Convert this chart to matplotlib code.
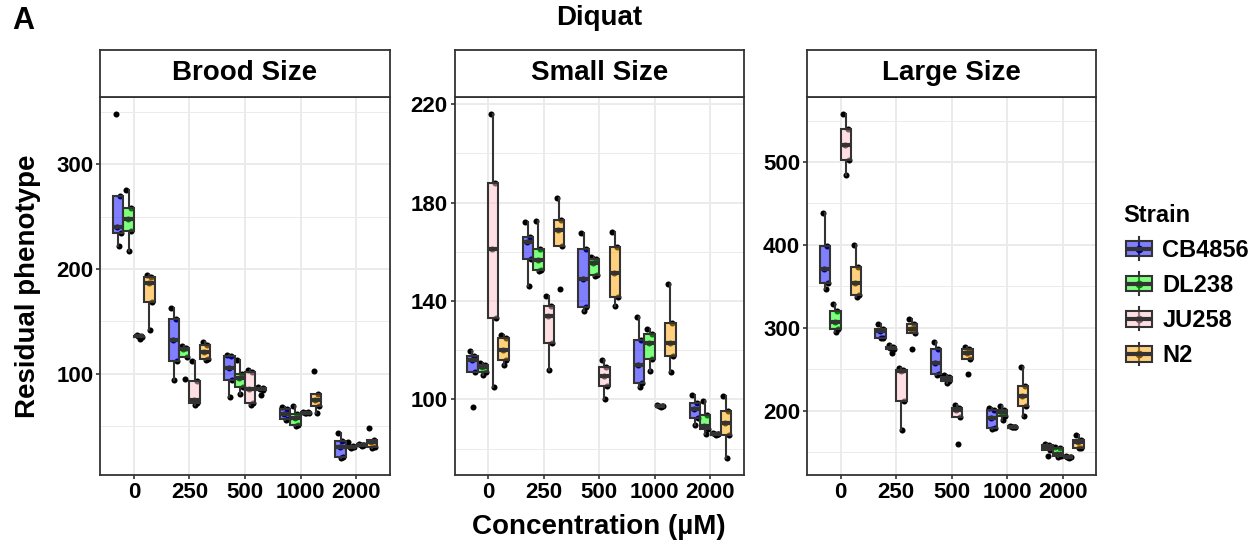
import matplotlib
matplotlib.use("Agg")
import matplotlib.pyplot as plt
from matplotlib.patches import Rectangle
from matplotlib.lines import Line2D
from matplotlib.legend_handler import HandlerBase
from matplotlib.ticker import FixedLocator

plt.rcParams['font.family'] = ['Liberation Sans', 'DejaVu Sans']
plt.rcParams['font.weight'] = 'bold'

# ---------------- data ----------------
concentrations = ['0', '250', '500', '1000', '2000']
strains = ['CB4856', 'DL238', 'JU258', 'N2']
panel_titles = ['Brood Size', 'Small Size', 'Large Size']

# values per concentration (0, 250, 500, 1000, 2000)
brood_CB4856 = [[348, 270, 240, 234, 222], [163, 152, 132, 112, 94], [118, 117, 106, 94, 78],
                [68, 67, 62, 57, 56], [44, 36, 30, 21, 20]]
brood_DL238 = [[275, 258, 248, 236, 217], [126.5, 124.5, 124, 116, 95], [113, 100, 96, 88, 81],
               [69, 62, 58, 51.5, 50.5], [34.7, 31.5, 30.5, 30, 29.5]]
brood_JU258 = [[137.5, 136.5, 136, 135.5, 133], [112, 93, 75, 72, 70], [104, 102, 86, 72, 70],
               [64, 63.5, 63, 63, 62.5], [33, 32.5, 32, 32, 31.5]]
brood_N2 = [[194, 192, 187, 169, 142], [130, 128, 121, 114, 113], [88, 87, 86, 85, 80],
            [102.5, 81, 75, 69, 63], [48, 37, 35.5, 30, 29.5]]

small_CB4856 = [[119.5, 117.5, 116, 111, 97], [172, 166, 164, 157, 146], [167.5, 161, 149, 137.5, 136],
                [133.5, 124, 114, 106.5, 105], [102, 98.5, 96, 92.5, 89.5]]
small_DL238 = [[115, 114, 113, 111, 110], [172.5, 161, 156.5, 152.5, 152], [158, 157, 155.5, 150.5, 150],
               [128.5, 126.5, 123, 116.5, 111.7], [99.5, 93.5, 89.3, 88.2, 86]]
small_JU258 = [[216, 188, 161, 133, 105], [142, 138, 134, 123, 112], [116, 113, 109.5, 105.5, 100],
               [97.8, 97.5, 97.4, 97.3, 97], [86.3, 86.1, 86, 85.9, 85.7]]
small_N2 = [[126, 125, 120, 116, 114], [182, 173, 169, 162.5, 145], [168, 162, 151.5, 141.5, 138],
            [147, 131, 123, 117.5, 111], [101.5, 95.5, 90.5, 85.7, 76.3]]

large_CB4856 = [[438, 399, 371, 354, 347], [304, 298, 296, 288, 287], [283, 274, 258, 244, 243],
                [203, 201, 191, 179, 178], [160, 158, 156, 153, 145]]
large_DL238 = [[329, 320, 307, 298, 295], [279, 277, 276, 274, 269], [243, 240, 238, 236, 233],
               [205, 201, 198, 194, 189], [156, 155, 148, 145, 143.5]]
large_JU258 = [[558, 540, 521, 502, 484], [251, 249, 248, 212, 176], [207, 203, 201, 192, 160],
               [181, 180.6, 180.4, 180.2, 180], [145, 144.5, 144, 143.5, 143]]
large_N2 = [[400, 373, 354, 339, 337], [310, 304, 298, 294, 274], [277, 274, 269, 262.5, 244],
            [252, 230, 217, 205, 194], [170, 165, 162, 155, 155]]

panel_data = [
    [brood_CB4856, brood_DL238, brood_JU258, brood_N2],
    [small_CB4856, small_DL238, small_JU258, small_N2],
    [large_CB4856, large_DL238, large_JU258, large_N2],
]
brood_ticks = [100, 200, 300]
small_ticks = [100, 140, 180, 220]
large_ticks = [200, 300, 400, 500]
brood_minor = [50, 150, 250, 350]
small_minor = [80, 120, 160, 200]
large_minor = [150, 250, 350, 450, 550]
panel_ticks = [brood_ticks, small_ticks, large_ticks]
panel_minor = [brood_minor, small_minor, large_minor]

# ---------------- style ----------------
fills = ['#0000FF', '#00FF00', '#FFC0CB', '#FFA500']
FILL_ALPHA = 0.5
EDGE = '#333333'
GRID = '#EBEBEB'
DODGE = 0.75
BOXW = DODGE / 4
JITTER = [-0.045, 0.035, -0.015, 0.05, 0.01, -0.03]

W, H = 1260, 550
fig = plt.figure(figsize=(W / 100, H / 100), dpi=100)

panel_left_px = [100.5, 454.7, 807.3]
panel_w_px = 289
top_px, bot_px, strip_top_px = 96.7, 475, 50

for p, (lpx, data, title) in enumerate(zip(panel_left_px, panel_data, panel_titles)):
    ax = fig.add_axes([lpx / W, 1 - bot_px / H, panel_w_px / W, (bot_px - top_px) / H])
    for s, sdata in enumerate(data):
        pos = [i + 1 + (s - 1.5) * BOXW for i in range(len(concentrations))]
        # points (drawn beneath the semi-transparent boxes)
        for x0, vals in zip(pos, sdata):
            xs = [x0 + JITTER[k % len(JITTER)] for k in range(len(vals))]
            ax.scatter(xs, vals, s=19, color='black', zorder=2, linewidths=0)
        ax.boxplot(sdata, positions=pos, widths=BOXW, patch_artist=True, showfliers=False,
                   showcaps=False, whis=1.5, manage_ticks=False,
                   boxprops=dict(facecolor=(*matplotlib.colors.to_rgb(fills[s]), FILL_ALPHA),
                                 edgecolor=EDGE, linewidth=1.5),
                   medianprops=dict(color=EDGE, linewidth=3.0, solid_capstyle='butt'),
                   whiskerprops=dict(color=EDGE, linewidth=1.5),
                   zorder=3)
    ax.set_xlim(0.4, len(concentrations) + 0.6)
    ax.margins(y=0.05)
    ax.autoscale(axis='y')
    ax.set_xticks(range(1, len(concentrations) + 1))
    ax.set_xticklabels(concentrations)
    ax.yaxis.set_major_locator(FixedLocator(panel_ticks[p]))
    ax.yaxis.set_minor_locator(FixedLocator(panel_minor[p]))
    ax.grid(which='major', color=GRID, linewidth=1.4, zorder=0)
    ax.grid(which='minor', axis='y', color=GRID, linewidth=0.7, zorder=0)
    ax.set_axisbelow(True)
    ax.tick_params(which='major', length=3.2, width=1.2, color=EDGE, labelsize=16, pad=2,
                   labelcolor='black')
    ax.tick_params(which='minor', length=0)
    for lab in ax.get_xticklabels() + ax.get_yticklabels():
        lab.set_fontweight('bold')
    for sp in ax.spines.values():
        sp.set_color(EDGE)
        sp.set_linewidth(1.3)
    # strip
    sax = fig.add_axes([lpx / W, 1 - top_px / H, panel_w_px / W, (top_px - strip_top_px) / H])
    sax.set_xticks([])
    sax.set_yticks([])
    for sp in sax.spines.values():
        sp.set_color(EDGE)
        sp.set_linewidth(1.3)
    sax.text(0.5, 0.5, title, ha='center', va='center', fontsize=20, fontweight='bold',
             transform=sax.transAxes)

# titles / labels
fig.text(12 / W, 1 - 21 / H, 'A', fontsize=22, fontweight='bold', ha='left', va='center')
fig.text(599 / W, 1 - 18 / H, 'Diquat', fontsize=20, fontweight='bold', ha='center', va='center')
fig.text(599 / W, 1 - 527 / H, 'Concentration (µM)', fontsize=20, fontweight='bold',
         ha='center', va='center')
fig.text(28 / W, 1 - 286 / H, 'Residual phenotype', fontsize=20, fontweight='bold',
         ha='center', va='center', rotation=90)


# legend
class BoxKeyHandler(HandlerBase):
    def __init__(self, fill):
        super().__init__()
        self.fill = fill

    def create_artists(self, legend, orig_handle, xdescent, ydescent, width, height, fontsize, trans):
        x0, y0 = -xdescent, -ydescent
        inset = width * 0.1
        bx0, bx1 = x0 + inset, x0 + width - inset
        cx, cy = x0 + width / 2, y0 + height / 2
        bh = height * 0.67
        whisk = Line2D([cx, cx], [y0, y0 + height], color=EDGE, lw=1.5, transform=trans)
        dot = Line2D([cx], [cy], marker='o', color='black', markersize=4.5, linestyle='none',
                     transform=trans)
        rect = Rectangle((bx0, cy - bh / 2), bx1 - bx0, bh,
                         facecolor=(*matplotlib.colors.to_rgb(self.fill), FILL_ALPHA),
                         edgecolor=EDGE, lw=1.5, transform=trans)
        med = Line2D([bx0, bx1], [cy, cy], color=EDGE, lw=3.0, transform=trans,
                     solid_capstyle='butt')
        return [whisk, dot, rect, med]


handles = [Rectangle((0, 0), 1, 1) for _ in strains]
hmap = {h: BoxKeyHandler(c) for h, c in zip(handles, fills)}
leg = fig.legend(handles, strains, handler_map=hmap, title='Strain', loc='upper left',
                 bbox_to_anchor=(1123 / W, 1 - 203.5 / H), frameon=False,
                 prop=dict(weight='bold', size=17),
                 title_fontproperties=dict(weight='bold', size=17),
                 handlelength=1.36, handleheight=1.12, labelspacing=0.45, handletextpad=0.3,
                 borderaxespad=0, borderpad=0, alignment='left')

fig.savefig('out.png', dpi=100)
